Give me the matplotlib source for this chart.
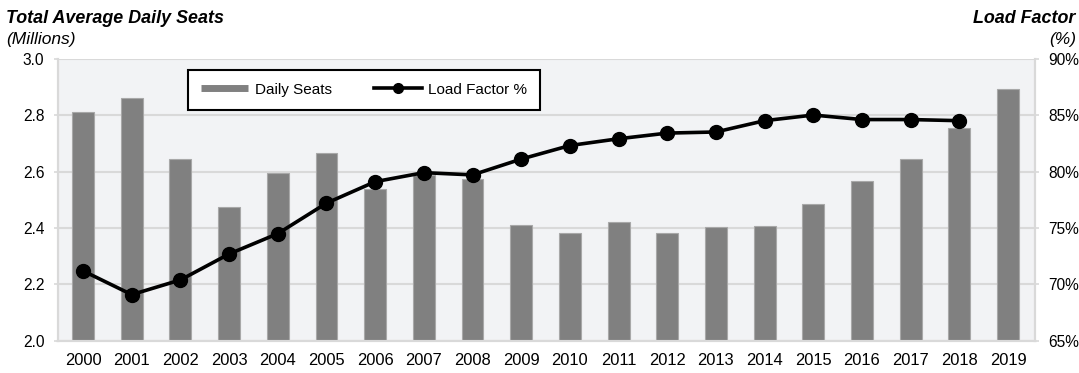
import matplotlib.pyplot as plt
from matplotlib.lines import Line2D
from matplotlib.ticker import FuncFormatter

plt.rcParams['font.family'] = ['Liberation Sans', 'DejaVu Sans']

years = [str(y) for y in range(2000, 2020)]
daily_seats = [2.81, 2.86, 2.644, 2.476, 2.596, 2.666, 2.539, 2.588, 2.575, 2.41,
               2.383, 2.421, 2.383, 2.404, 2.406, 2.485, 2.566, 2.644, 2.753, 2.892]
load_years = years[:19]
load_factor = [71.2, 69.1, 70.4, 72.7, 74.5, 77.2, 79.1, 79.9, 79.7, 81.1,
               82.3, 82.9, 83.4, 83.5, 84.5, 85.0, 84.6, 84.6, 84.5]

grid_c = '#d9d9d9'
bar_c = '#808080'

fig = plt.figure(figsize=(10.79, 3.73), dpi=100)
ax = fig.add_axes([0.054, 0.086, 0.905, 0.757])
ax.set_facecolor('#f2f3f5')

x = list(range(len(years)))
ax.bar(x, daily_seats, width=0.45, color=bar_c, edgecolor='#a8a8a8', linewidth=0.8, zorder=2)
ax.set_ylim(2.0, 3.0)
ax.set_yticks([2.0, 2.2, 2.4, 2.6, 2.8, 3.0])
ax.yaxis.set_major_formatter(FuncFormatter(lambda v, p: f'{v:.1f}'))
ax.set_xlim(-0.51, 19.55)
ax.set_xticks(x)
ax.set_xticklabels(years)
ax.grid(axis='y', color=grid_c, linewidth=1.5, zorder=0)
ax.set_axisbelow(True)
ax.tick_params(axis='x', length=0, pad=9, labelsize=11.9)
ax.tick_params(axis='y', length=3, width=1.2, color=grid_c, pad=7, labelsize=11.2)

ax2 = ax.twinx()
xl = list(range(len(load_years)))
ax2.plot(xl, load_factor, color='black', linewidth=2.6, marker='o', markersize=10, zorder=3)
ax2.set_ylim(65, 90)
ax2.set_yticks([65, 70, 75, 80, 85, 90])
ax2.yaxis.set_major_formatter(FuncFormatter(lambda v, p: f'{v:.0f}%'))
ax2.tick_params(axis='y', length=3, width=1.2, color=grid_c, pad=7, labelsize=11.2)

for a in (ax, ax2):
    a.spines['top'].set_visible(False)
    for s in ('left', 'right', 'bottom'):
        a.spines[s].set_color(grid_c)
        a.spines[s].set_linewidth(1.5)

handles = [Line2D([], [], color=bar_c, linewidth=5, solid_capstyle='butt'),
           Line2D([], [], color='black', linewidth=2.6, marker='o', markersize=7)]
leg = ax2.legend(handles, ['Daily Seats', 'Load Factor %'], ncol=2,
                 loc='upper left', bbox_to_anchor=(0.133, 0.96), fontsize=11,
                 frameon=True, fancybox=False, borderpad=0.85, handlelength=3.1,
                 handletextpad=0.4, columnspacing=2.8, borderaxespad=0)
leg.get_frame().set_edgecolor('black')
leg.get_frame().set_linewidth(1.5)
leg.get_frame().set_facecolor('white')
leg.get_frame().set_alpha(1)

fig.text(0.006, 0.972, 'Total Average Daily Seats', fontsize=12.9,
         fontweight='bold', fontstyle='italic', ha='left', va='top')
fig.text(0.006, 0.915, '(Millions)', fontsize=12.5, fontstyle='italic',
         ha='left', va='top')
fig.text(0.997, 0.972, 'Load Factor', fontsize=12.9,
         fontweight='bold', fontstyle='italic', ha='right', va='top')
fig.text(0.997, 0.915, '(%)', fontsize=12.5, fontstyle='italic',
         ha='right', va='top')

fig.savefig('out.png', dpi=100)
